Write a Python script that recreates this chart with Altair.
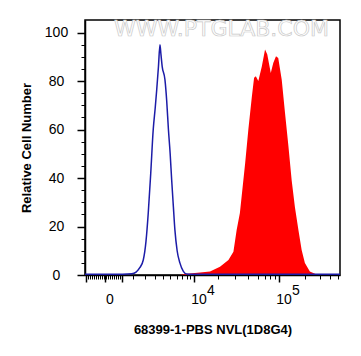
import altair as alt
import pandas as pd

# ---- data (x in display channels 0..1024, y = relative cell number) ----
blue_ch = [0, 150, 188, 205, 220, 234, 245, 254, 264, 274, 282, 288, 295, 301, 305,
           310, 321, 328, 335, 342, 348, 355, 361, 370, 381, 395, 408, 430, 1024]
blue_val = [0.3, 0.3, 0.5, 1.2, 3, 6.2, 14, 25.6, 42, 60, 69, 76.4, 86, 95, 91,
            86, 80.6, 72, 60, 50, 39.3, 28, 18.6, 10, 5, 1.5, 0.4, 0.3, 0.3]

red_ch = [380, 420, 462, 502, 542, 576, 596, 609, 622, 643, 656, 670, 679, 686, 696,
          710, 723, 732, 746, 756, 767, 776, 790, 803, 817, 830, 843, 857, 870, 883,
          903, 930, 1024]
red_val = [0, 0.6, 1.0, 1.4, 3.4, 6.2, 9.6, 18.6, 25.6, 46, 60, 73.5, 81.4, 82, 80,
           86, 93, 91, 83.3, 87.5, 90.2, 89.5, 80.6, 67, 53, 39, 28, 18.6, 10.3, 5,
           1.4, 0.2, 0]

x_major = [4, 80, 149, 438, 779]
x_major_labels = ["", "0", "", "10", "10"]
x_minor = [12, 20, 28, 36, 44, 52, 60, 68, 76, 84, 92, 100, 108, 116, 124, 133, 141,
           193, 241, 281, 313, 341, 369, 390, 410, 422,
           534, 602, 655, 695, 723, 743, 763,
           883, 944, 984, 1016]
exp_ch = [438, 779]
exp_text = ["4", "5"]

y_major = [0, 20, 40, 60, 80, 100]
y_minor = [5, 10, 15, 25, 30, 35, 45, 50, 55, 65, 70, 75, 85, 90, 95]

x_title = "68399-1-PBS NVL(1D8G4)"
y_title = "Relative Cell Number"
watermark = "WWW.PTGLAB.COM"

FONT = "Liberation Sans"

blue_df = pd.DataFrame({"ch": blue_ch, "n": blue_val})
red_df = pd.DataFrame({"ch": red_ch, "n": red_val})
exp_df = pd.DataFrame({"ch": exp_ch, "t": exp_text})

label_expr = " : ".join(
    f"datum.value == {v} ? '{t}'" for v, t in zip(x_major, x_major_labels)
) + " : ''"

x_scale = alt.Scale(domain=[0, 1024], nice=False, zero=False)
y_scale = alt.Scale(domain=[0, 105.2], nice=False, zero=False)

red = alt.Chart(red_df).mark_area(color="#ff0000", interpolate="linear").encode(
    x=alt.X("ch:Q", scale=x_scale, axis=alt.Axis(
        orient="bottom",
        values=x_major, labelExpr=label_expr, tickSize=7, tickWidth=1.5,
        tickColor="black", domainColor="black", domainWidth=1.5,
        labelFontSize=14, labelFont=FONT, labelColor="black",
        labelPadding=21, labelBaseline="alphabetic", labelOffset=4.5,
        labelOverlap=False, labelFlush=False, grid=False,
        title=x_title, titleFont=FONT, titleFontSize=13, titleFontWeight="bold",
        titleColor="black", titleBaseline="alphabetic", titleX=127.5, titleY=58)),
    y=alt.Y("n:Q", scale=y_scale, axis=alt.Axis(
        orient="left",
        values=y_major, tickSize=8, tickWidth=1.5, tickColor="black",
        domainColor="black", domainWidth=1.5,
        labelFontSize=14, labelFont=FONT, labelColor="black",
        labelAlign="center", labelPadding=21, labelBaseline="middle",
        labelOverlap=False, grid=False,
        title=y_title, titleFont=FONT, titleFontSize=13, titleFontWeight="bold",
        titleColor="black", titleX=-52, titleY=127.5)),
)

blue = alt.Chart(blue_df).mark_line(color="#1c1ca8", strokeWidth=1.5,
                                    interpolate="monotone").encode(
    x=alt.X("ch:Q", scale=x_scale, title=None, axis=alt.Axis(
        orient="bottom",
        values=x_minor, labels=False, domain=False, tickSize=4, tickWidth=1,
        tickColor="black", grid=False)),
    y=alt.Y("n:Q", scale=y_scale, title=None, axis=alt.Axis(
        orient="left",
        values=y_minor, labels=False, domain=False, tickSize=4, tickWidth=1,
        tickColor="black", grid=False)),
)

exps = alt.Chart(exp_df).mark_text(
    align="left", baseline="alphabetic", dx=13, fontSize=14, font=FONT, color="black"
).encode(
    x=alt.X("ch:Q", scale=x_scale, axis=None),
    y=alt.value(275),
    text="t:N",
)

wm = alt.Chart(pd.DataFrame({"t": [watermark]})).mark_text(
    align="center", baseline="alphabetic", fontSize=22, font="DejaVu Sans",
    fontWeight="normal", fill="white", stroke="#c8c8c8", strokeWidth=0.7
).encode(
    x=alt.value(136.5),
    y=alt.value(16),
    text="t:N",
)

chart = alt.layer(wm, red, blue, exps).resolve_axis(
    x="independent", y="independent"
).properties(
    width=255, height=255,
    padding={"left": 77, "top": 12, "right": 13, "bottom": 70},
    autosize="none",
    background="white",
).configure_view(stroke="black", strokeWidth=1.5)

chart.save("out.html", embed_options={"renderer": "svg", "actions": False})
